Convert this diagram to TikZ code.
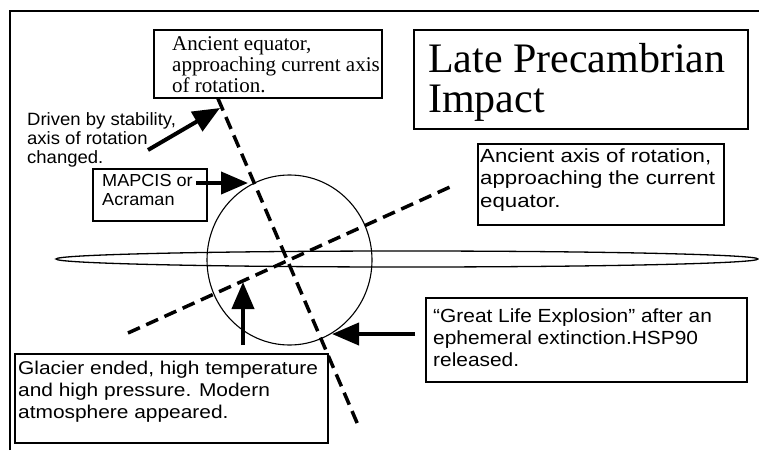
\documentclass[tikz,border=0pt]{standalone}
\usepackage{fontspec}
\setmainfont{Liberation Serif}
\newfontfamily\sfA[FakeStretch=1.04]{Liberation Sans}
\newfontfamily\sfB[FakeStretch=1.13]{Liberation Sans}
\newfontfamily\sfC[FakeStretch=1.10]{Liberation Sans}
\newfontfamily\sfD[FakeStretch=1.17]{Liberation Sans}
\newfontfamily\serifA{Liberation Serif}
\usetikzlibrary{arrows.meta}
\begin{document}
\begin{tikzpicture}[x=1pt,y=-1pt,
  boxframe/.style={draw, line width=1.6pt, inner sep=0pt, anchor=north west},
  txt/.style={anchor=base west, inner sep=0pt, align=left},
  dashaxis/.style={line width=3.5pt, dash pattern=on 13pt off 7pt},
  bigarrow/.style={line width=4pt, -{Triangle[length=27pt,width=22pt]}},
  thinline/.style={line width=1.1pt}
]
\useasboundingbox (0,0) rectangle (759,450);
% frame
\draw[line width=2pt] (10,450) -- (10,11) -- (759,11);

% globe and disk
\draw[thinline] (289.5,260) ellipse [x radius=82.5, y radius=85];
\draw[line width=1.3pt] (407,259) ellipse [x radius=351, y radius=8];

% boxes (text nodes anchored at the baseline of their last line)
\node[boxframe, minimum width=228pt, minimum height=68pt] (eqbox) at (153,29) {};
\node[txt, font=\fontsize{21}{21}\selectfont\serifA] (eqtxt) at (172,92)
  {Ancient equator,\\approaching current axis\\of rotation.};

\node[boxframe, minimum width=334pt, minimum height=99pt] (titlebox) at (413,29) {};
\node[txt, font=\fontsize{42}{40}\selectfont\serifA] (titletxt) at (428,112)
  {Late Precambrian\\Impact};

\node[boxframe, minimum width=246pt, minimum height=81pt] (axisbox) at (477,143) {};
\node[txt, font=\fontsize{19}{22.5}\selectfont\sfD] (axistxt) at (480,207)
  {Ancient axis of rotation,\\approaching the current\\equator.};

\node[txt, font=\fontsize{17.8}{19}\selectfont\sfA] (driventxt) at (27,163)
  {Driven by stability,\\axis of rotation\\changed.};

\node[boxframe, minimum width=114pt, minimum height=52pt] (mapbox) at (92,168) {};
\node[txt, font=\fontsize{17.4}{19}\selectfont\sfA] (maptxt) at (102,205)
  {MAPCIS or\\Acraman};

\node[boxframe, minimum width=313pt, minimum height=89pt] (glabox) at (14,353) {};
\node[txt, font=\fontsize{18.5}{22}\selectfont\sfB] (glatxt) at (18,418)
  {Glacier ended, high temperature\\and high pressure. Modern\\atmosphere appeared.};

\node[boxframe, minimum width=321pt, minimum height=84pt] (lifebox) at (425,297) {};
\node[txt, font=\fontsize{19}{22}\selectfont\sfC] (lifetxt) at (433,366)
  {“Great Life Explosion” after an\\ephemeral extinction.HSP90\\released.};

% dashed axes
\coordinate (eqend) at (358,425);
\coordinate (axstart) at (128,333);
\coordinate (axend) at (450,187);
\draw[dashaxis] (eqbox.south west -| 218,0) -- (eqend);
\draw[dashaxis] (axstart) -- (axend);

% arrows
\coordinate (drivenfrom) at (148,150);
\coordinate (driventip) at (220,108);
\coordinate (mapfrom) at (196,183);
\coordinate (maptip) at (248,183);
\coordinate (glatip) at (243,282);
\coordinate (lifetip) at (332,334);
\draw[bigarrow] (drivenfrom) -- (driventip);
\draw[bigarrow] (mapfrom) -- (maptip);
\draw[bigarrow] (glabox.north west -| 243,0) ++(0,-8) -- (glatip);
\draw[bigarrow] (lifebox.north west |- 0,334) ++(-10,0) -- (lifetip);
\end{tikzpicture}
\end{document}
